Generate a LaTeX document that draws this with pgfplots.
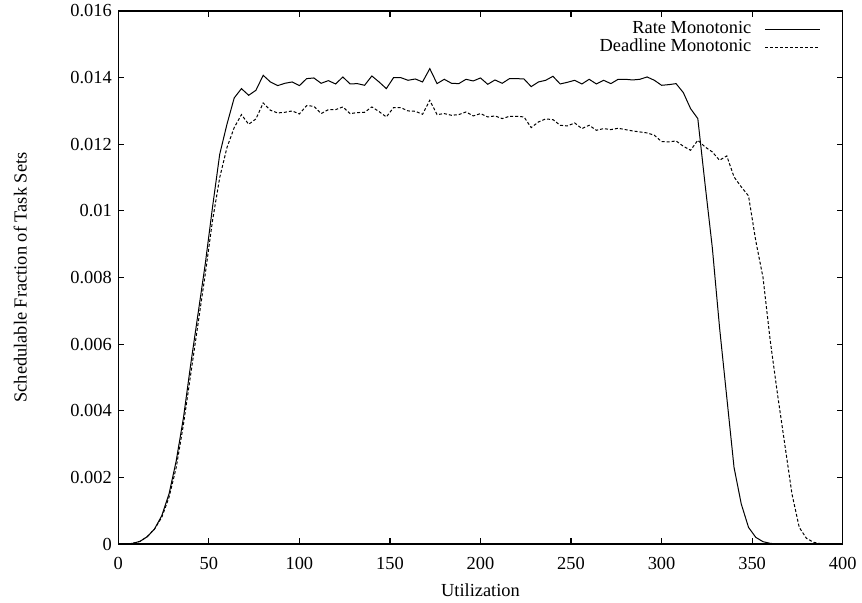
\documentclass[border=0pt]{standalone}
\usepackage{fontspec}
\setmainfont{Liberation Serif}
\usepackage{pgfplots}
\pgfplotsset{compat=1.18}
\usepackage{pgfplotstable}

% utilization, rate monotonic, deadline monotonic
\pgfplotstableread{
x rm dm
0 0 0
4 0 0
8 0.00002 0.00002
12 0.00008 0.00008
16 0.00022 0.00022
20 0.00045 0.00045
24 0.00085 0.0008
28 0.0015 0.0014
32 0.0025 0.0023
36 0.0038 0.0036
40 0.0054 0.0051
44 0.0069 0.0066
48 0.0084 0.0081
52 0.0101 0.0097
56 0.0117 0.0110
60 0.0126 0.0119
64 0.01339 0.0125
68 0.01367 0.01289
72 0.01347 0.01260
76 0.01362 0.01276
80 0.01407 0.01324
84 0.01387 0.01302
88 0.01376 0.01294
92 0.01383 0.01296
96 0.01387 0.01300
100 0.01376 0.01291
104 0.01397 0.01316
108 0.01399 0.01314
112 0.01383 0.01292
116 0.01391 0.01304
120 0.01381 0.01304
124 0.01402 0.01312
128 0.01381 0.01292
132 0.01382 0.01295
136 0.01377 0.01296
140 0.01405 0.01312
144 0.01387 0.01298
148 0.01367 0.01282
152 0.01400 0.01310
156 0.01400 0.01310
160 0.01392 0.01300
164 0.01396 0.01299
168 0.01387 0.01290
172 0.01427 0.01332
176 0.01382 0.01289
180 0.01395 0.01292
184 0.01383 0.01287
188 0.01382 0.01289
192 0.01395 0.01297
196 0.01390 0.01285
200 0.01399 0.01292
204 0.01380 0.01282
208 0.01393 0.01285
212 0.01383 0.01277
216 0.01397 0.01284
220 0.01397 0.01284
224 0.01396 0.01282
228 0.01373 0.01250
232 0.01387 0.01267
236 0.01392 0.01276
240 0.01404 0.01274
244 0.01381 0.01257
248 0.01386 0.01255
252 0.01392 0.01264
256 0.01381 0.01247
260 0.01395 0.01257
264 0.01381 0.01242
268 0.01392 0.01247
272 0.01382 0.01244
276 0.01395 0.01248
280 0.01395 0.01244
284 0.01393 0.01240
288 0.01395 0.01237
292 0.01402 0.01234
296 0.01392 0.01227
300 0.01377 0.01208
304 0.01379 0.01207
308 0.01382 0.01210
312 0.01355 0.01194
316 0.01307 0.01182
320 0.01277 0.01212
324 0.0108 0.01192
328 0.0089 0.01177
332 0.0065 0.01152
336 0.0044 0.01165
340 0.0023 0.01102
344 0.0012 0.01072
348 0.0005 0.01045
352 0.0002 0.0091
356 0.00007 0.0080
360 0.00002 0.0061
364 0 0.0045
368 0 0.0030
372 0 0.0015
376 0 0.0005
380 0 0.00017
384 0 0.00005
388 0 0.00001
392 0 0
396 0 0
400 0 0
}\sched

\begin{document}
\fontsize{9.2}{11}\selectfont
\begin{tikzpicture}
\path[use as bounding box] (-59.15pt,-29pt) rectangle (371.85pt,272pt);
\begin{axis}[
    at={(0,0)}, anchor=south west,
    scale only axis,
    width=362.2pt, height=266.5pt,
    xmin=0, xmax=400, ymin=0, ymax=0.016,
    xtick={0,50,100,150,200,250,300,350,400},
    xticklabels={0,50,100,150,200,250,300,350,400},
    ytick={0,0.002,0.004,0.006,0.008,0.01,0.012,0.014,0.016},
    yticklabels={0,0.002,0.004,0.006,0.008,0.01,0.012,0.014,0.016},
    scaled y ticks=false,
    tick align=inside,
    major tick length=2.8pt,
    minor tick num=0,
    axis line style={line width=0.7pt},
    every tick/.style={black, line width=0.6pt},
    xticklabel style={yshift=-3.5pt},
    xlabel={Utilization},
    ylabel={Schedulable Fraction of Task Sets},
    xlabel style={at={(axis description cs:0.5,0)}, anchor=center, yshift=-23pt},
    ylabel style={at={([xshift=-49pt]axis description cs:0,0.5)}, anchor=center},
    legend style={draw=none, fill=none, at={(axis description cs:1,1)},
        anchor=north east, xshift=-10.9pt, yshift=-4.5pt,
        inner sep=0pt, outer sep=0pt, row sep=0pt,
        nodes={inner ysep=0pt, inner xsep=2.25pt, text height=6.6pt, text depth=2.4pt}},
    legend cell align=right,
    legend plot pos=right,
    legend image code/.code={\path (0pt,0pt); \draw[#1] (4.5pt,0pt) -- (32pt,0pt);},
]
\addplot[black, line width=0.5pt] table[x=x, y=rm]{\sched};
\addlegendentry{Rate Monotonic}
\addplot[black, line width=0.5pt, dash pattern=on 1.5pt off 1pt] table[x=x, y=dm]{\sched};
\addlegendentry{Deadline Monotonic}
\end{axis}
\end{tikzpicture}
\end{document}
